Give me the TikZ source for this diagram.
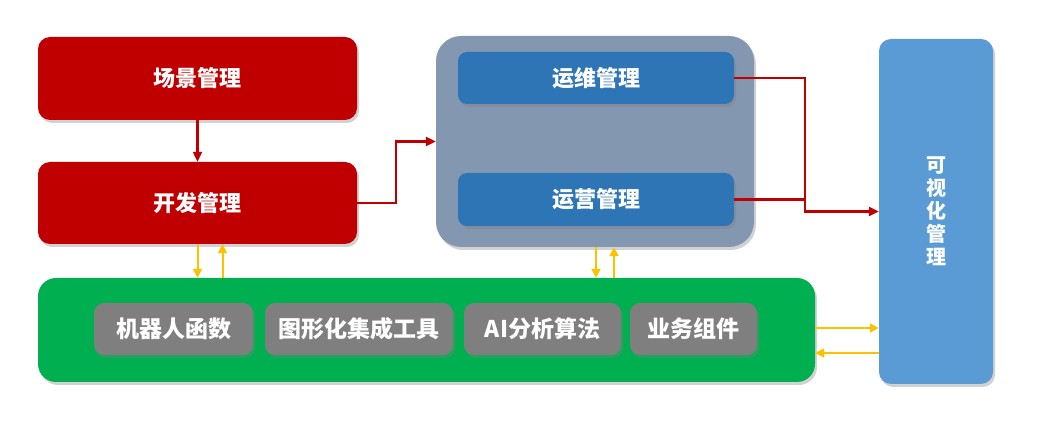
\documentclass[tikz,border=0pt]{standalone}
\usepackage{fontspec}
\setmainfont{Noto Sans CJK SC}
\usetikzlibrary{shadows,calc,arrows.meta}
\definecolor{cred}{HTML}{C00000}
\definecolor{ccont}{HTML}{8497B0}
\definecolor{cblue}{HTML}{2E75B6}
\definecolor{cvis}{HTML}{5B9BD5}
\definecolor{cgreen}{HTML}{00B050}
\definecolor{cgray}{HTML}{7F7F7F}
\definecolor{corange}{HTML}{FFC000}
\tikzset{
  box/.style={rounded corners=12pt, text=white, font=\bfseries\fontsize{22}{27}\selectfont,
    drop shadow={opacity=0.35, shadow xshift=2pt, shadow yshift=-3pt}, inner sep=0pt},
  redbox/.style={box, fill=cred},
  bluebox/.style={box, fill=cblue, rounded corners=9pt},
  graybox/.style={box, fill=cgray, rounded corners=10pt, font=\bfseries\fontsize{23}{27}\selectfont},
  redarr/.style={draw=cred, line width=2.2pt, -{Triangle[length=10pt,width=9pt]}},
  redline/.style={draw=cred, line width=2.2pt},
  oarr/.style={draw=corange, line width=2pt, -{Triangle[length=9pt,width=9pt]}},
}
\begin{document}
\begin{tikzpicture}[x=1pt,y=-1pt]
\useasboundingbox[fill=white] (0,0) rectangle (1044,427);
% nodes
\node[redbox, minimum width=319, minimum height=83] (scene) at (197.5,78.5) {场景管理};
\node[redbox, minimum width=319, minimum height=82] (dev) at (197.5,203) {开发管理};
\node[box, fill=ccont, rounded corners=25pt, minimum width=318, minimum height=211] (cont) at (595,141.5) {};
\node[bluebox, minimum width=276, minimum height=52] (ops) at (596,78) {运维管理};
\node[bluebox, minimum width=276, minimum height=53] (run) at (596,199.5) {运营管理};
\node[box, fill=cvis, minimum width=114, minimum height=345, align=center, font=\bfseries\fontsize{20}{23}\selectfont] (vis) at (936,211.5) {可\\视\\化\\管\\理};
\node[box, fill=cgreen, rounded corners=18pt, minimum width=777, minimum height=104] (green) at (426.5,330) {};
\node[graybox, minimum width=159, minimum height=52] (g1) at (173.5,329) {机器人函数};
\node[graybox, minimum width=188, minimum height=52] (g2) at (359,329) {图形化集成工具};
\node[graybox, minimum width=157, minimum height=52] (g3) at (542.5,329) {AI分析算法};
\node[graybox, minimum width=127, minimum height=52] (g4) at (693.5,329) {业务组件};
% red connectors
\draw[redarr] (scene.south) -- (dev.north);
\draw[redarr] (dev.east) -- ++(39,0) |- (cont.west);
\coordinate (j) at (805,211.5);
\draw[redarr] (ops.east) -| (j) -- (vis.west);
\draw[redline] (run.east) -- (run.east -| j);
% orange connectors
\draw[oarr] (dev.south) -- (dev.south |- green.north);
\draw[oarr] ($(dev.south |- green.north)+(25,0)$) -- ($(dev.south)+(25,0)$);
\draw[oarr] ($(cont.south)+(1,0)$) -- ($(cont.south |- green.north)+(1,0)$);
\draw[oarr] ($(cont.south |- green.north)+(19,0)$) -- ($(cont.south)+(19,0)$);
\draw[oarr] ($(green.east)+(0,-2)$) -- ($(green.east -| vis.west)+(0,-2)$);
\draw[oarr] ($(green.east -| vis.west)+(0,23)$) -- ($(green.east)+(0,23)$);
\end{tikzpicture}
\end{document}
